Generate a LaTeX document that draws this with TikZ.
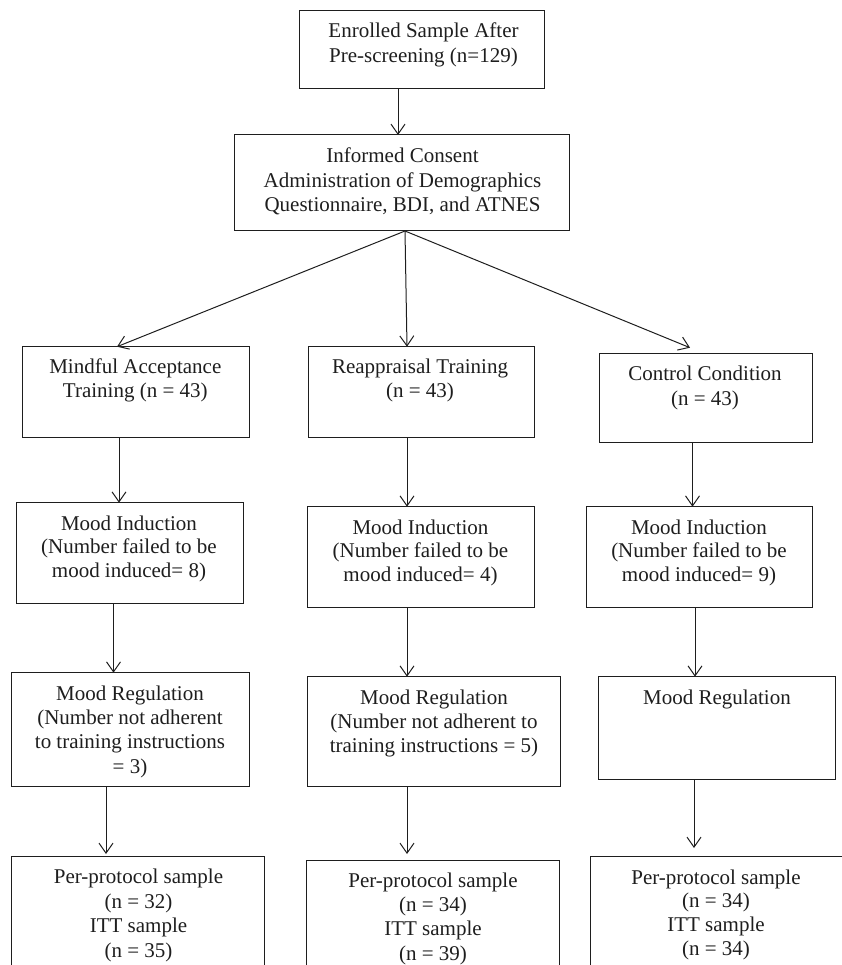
\documentclass[tikz,border=0pt]{standalone}
\usepackage{fontspec}
\setmainfont{Liberation Serif}
\usetikzlibrary{arrows.meta,calc}
\definecolor{ink}{HTML}{1E1E1E}
\begin{document}
\begin{tikzpicture}[x=1pt,y=-1pt,
  box/.style={draw=ink, line width=1pt, inner sep=0pt, outer sep=0pt},
  txt/.style={align=center, inner sep=0pt, anchor=north, text=ink, font=\fontsize{21}{#1}\selectfont},
  arr/.style={draw=ink, line width=1pt, -{Straight Barb[length=10pt,width=14pt]}}]
\useasboundingbox (0,0) rectangle (842,965);
\clip (0,0) rectangle (842,965);
% boxes
\node[box, minimum width=245pt, minimum height=78pt] (b1) at (421.5,50) {};
\node[box, minimum width=335pt, minimum height=96pt] (b2) at (401.5,183) {};
\node[box, minimum width=227pt, minimum height=90.3pt] (ma) at (135.5,391.85) {};
\node[box, minimum width=226pt, minimum height=90.3pt] (rt) at (421,391.85) {};
\node[box, minimum width=213.6pt, minimum height=89.4pt] (cc) at (705.8,398) {};
\node[box, minimum width=227pt, minimum height=100.6pt] (mi1) at (129.5,553) {};
\node[box, minimum width=226.7pt, minimum height=100.6pt] (mi2) at (421,557) {};
\node[box, minimum width=226.6pt, minimum height=100.6pt] (mi3) at (699.3,557) {};
\node[box, minimum width=237.2pt, minimum height=113.3pt] (mr1) at (130.4,729.35) {};
\node[box, minimum width=253pt, minimum height=109.3pt] (mr2) at (434.2,731.35) {};
\node[box, minimum width=236.2pt, minimum height=102.6pt] (mr3) at (716.9,728) {};
\node[box, minimum width=253pt, minimum height=119pt] (f1) at (138.3,915.5) {};
\node[box, minimum width=252.9pt, minimum height=115pt] (f2) at (433.15,917.5) {};
\node[box, minimum width=259.2pt, minimum height=119pt] (f3) at (720.4,915.5) {};
% texts
\node[txt=25] (t1) at (423.5,20.2) {\strut Enrolled Sample After\\\strut Pre-screening (n=129)};
\node[txt=24.7] (t2) at (402.5,145) {\strut Informed Consent\\\strut Administration of Demographics\\\strut Questionnaire, BDI, and ATNES};
\node[txt=24.4] (t3) at (135.3,356.2) {\strut Mindful Acceptance\\\strut Training (n = 43)};
\node[txt=24] (t4) at (420,356.2) {\strut Reappraisal Training\\\strut (n = 43)};
\node[txt=25] (t5) at (705,362.5) {\strut Control Condition\\\strut (n = 43)};
\node[txt=23.8] (t6) at (129,513.3) {\strut Mood Induction\\\strut (Number failed to be\\\strut mood induced= 8)};
\node[txt=23.4] (t7) at (420.5,517.9) {\strut Mood Induction\\\strut (Number failed to be\\\strut mood induced= 4)};
\node[txt=23.4] (t8) at (699,517.9) {\strut Mood Induction\\\strut (Number failed to be\\\strut mood induced= 9)};
\node[txt=24.4] (t9) at (130,682.9) {\strut Mood Regulation\\\strut (Number not adherent\\\strut to training instructions\\\strut = 3)};
\node[txt=24.2] (t10) at (434,687.4) {\strut Mood Regulation\\\strut (Number not adherent to\\\strut training instructions = 5)};
\node[txt=24.2] (t11) at (717,687.4) {\strut Mood Regulation};
\node[txt=24.7] (t12) at (138.5,866) {\strut Per-protocol sample\\\strut (n = 32)\\\strut ITT sample\\\strut (n = 35)};
\node[txt=24.2] (t13) at (433,870.4) {\strut Per-protocol sample\\\strut (n = 34)\\\strut ITT sample\\\strut (n = 39)};
\node[txt=23.7] (t14) at (716,867.4) {\strut Per-protocol sample\\\strut (n = 34)\\\strut ITT sample\\\strut (n = 34)};
% connectors
\draw[arr] ([xshift=-23.5pt]b1.south) -- ([xshift=-3.5pt]b2.north);
\draw[arr] ([xshift=3.5pt]b2.south) -- ([xshift=-18.5pt]ma.north);
\draw[arr] ([xshift=3.5pt]b2.south) -- ([xshift=-14pt]rt.north);
\draw[arr] ([xshift=3.5pt]b2.south) -- ([xshift=-15.8pt,yshift=5.6pt]cc.north);
\draw[arr] ([xshift=-16.5pt]ma.south) -- ([xshift=-10.5pt]mi1.north);
\draw[arr] ([xshift=-14pt]rt.south) -- ([xshift=-14pt]mi2.north);
\draw[arr] ([xshift=-13.3pt]cc.south) -- ([xshift=-6.8pt]mi3.north);
\draw[arr] ([xshift=-16pt]mi1.south) -- ([xshift=-16.9pt]mr1.north);
\draw[arr] ([xshift=-14pt]mi2.south) -- ([xshift=-27.2pt]mr2.north);
\draw[arr] ([xshift=-4.3pt]mi3.south) -- ([xshift=-21.9pt]mr3.north);
\draw[arr] ([xshift=-24.4pt]mr1.south) -- ([xshift=-32.3pt,yshift=2pt]f1.north);
\draw[arr] ([xshift=-27.2pt]mr2.south) -- ([xshift=-26.15pt,yshift=6pt]f2.north);
\draw[arr] ([xshift=-22.9pt]mr3.south) -- ([xshift=-26.4pt,yshift=8pt]f3.north);
\end{tikzpicture}
\end{document}
